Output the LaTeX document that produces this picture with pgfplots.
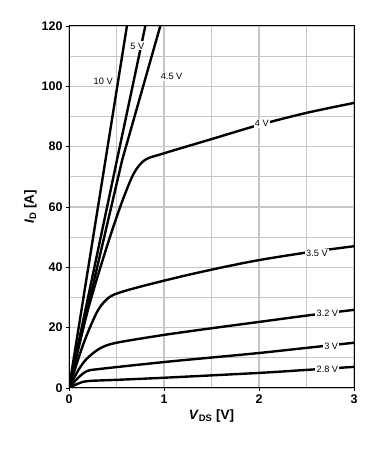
\documentclass[border=0pt]{standalone}
\usepackage{pgfplots}
\pgfplotsset{compat=1.18}
\usepackage{fontspec}
\setmainfont{Liberation Sans}
\tikzset{lbl/.style={fill=white, inner sep=1.3pt, font=\fontsize{9.2}{10}\selectfont},
  curve/.style={black, line width=2.4pt, line join=round, mark=none}}
\begin{document}
\begin{tikzpicture}
\begin{axis}[
  name=ax,
  scale only axis, width=285pt, height=362pt,
  xmin=0, xmax=3, ymin=0, ymax=120,
  xtick={0,1,2,3}, ytick={0,20,...,120},
  minor xtick={0.5,1.5,2.5}, minor ytick={10,30,...,110},
  grid=both,
  major grid style={line width=1.1pt, gray!45},
  minor grid style={line width=1.1pt, gray!45},
  axis line style={line width=1pt, black},
  tick style={black, line width=0.6pt},
  major tick length=3pt, minor tick length=0pt,
  tick align=outside, xtick pos=bottom, ytick pos=left,
  /pgf/number format/assume math mode=true,
  ticklabel style={font=\fontsize{12.5}{14}\selectfont\bfseries},
  xlabel={\fontsize{13.5}{15}\selectfont\bfseries\textit{V}\textsubscript{DS} [V]},
  ylabel={\fontsize{13.5}{15}\selectfont\bfseries\textit{I}\textsubscript{D} [A]},
  xlabel style={yshift=1pt},
  ylabel style={yshift=-2pt},
]
% 10 V
\addplot[curve] coordinates {(0,0) (0.62,122)};
% 5 V
\addplot[curve] coordinates {(0,0) (0.505,75.6) (0.81,121)};
% 4.5 V
\addplot[curve] coordinates {(0,0) (0.56,75.6) (0.97,121)};
% 4 V
\addplot[curve, smooth, tension=0.5] coordinates {(0,0) (0.2,26) (0.4,47) (0.55,61) (0.68,71) (0.8,75.6) (1.0,77.8) (1.5,82.5) (2,87.2) (2.5,91.2) (3,94.5)};
% 3.5 V
\addplot[curve, smooth, tension=0.5] coordinates {(0,0) (0.15,14.5) (0.3,25.5) (0.42,30) (0.55,31.8) (0.8,34) (1.2,37.1) (1.6,39.9) (2,42.4) (2.5,44.9) (3,47)};
% 3.2 V
\addplot[curve, smooth, tension=0.5] coordinates {(0,0) (0.1,6) (0.19,9.8) (0.33,13.2) (0.5,15) (1,17.6) (1.5,19.8) (2,21.9) (2.5,24) (3,25.9)};
% 3 V
\addplot[curve, smooth, tension=0.5] coordinates {(0,0) (0.1,3.5) (0.19,5.6) (0.32,6.3) (1,8.6) (1.5,10.1) (2,11.6) (2.5,13.3) (3,15)};
% 2.8 V
\addplot[curve, smooth, tension=0.5] coordinates {(0,0) (0.1,1.5) (0.2,2.3) (0.5,2.7) (1,3.4) (2,5) (2.5,6) (3,7)};
\node[lbl] at (axis cs:0.36,101.5) {10 V};
\node[lbl] at (axis cs:0.72,113.4) {5 V};
\node[lbl] at (axis cs:1.08,103.4) {4.5 V};
\node[lbl] at (axis cs:2.03,87.8) {4 V};
\node[lbl] at (axis cs:2.61,44.6) {3.5 V};
\node[lbl] at (axis cs:2.72,24.9) {3.2 V};
\node[lbl] at (axis cs:2.76,13.9) {3 V};
\node[lbl] at (axis cs:2.72,6.1) {2.8 V};
\end{axis}
\path[use as bounding box] (ax.south west) ++(-69pt,-61pt) rectangle ++(389pt,449pt);
\end{tikzpicture}
\end{document}
